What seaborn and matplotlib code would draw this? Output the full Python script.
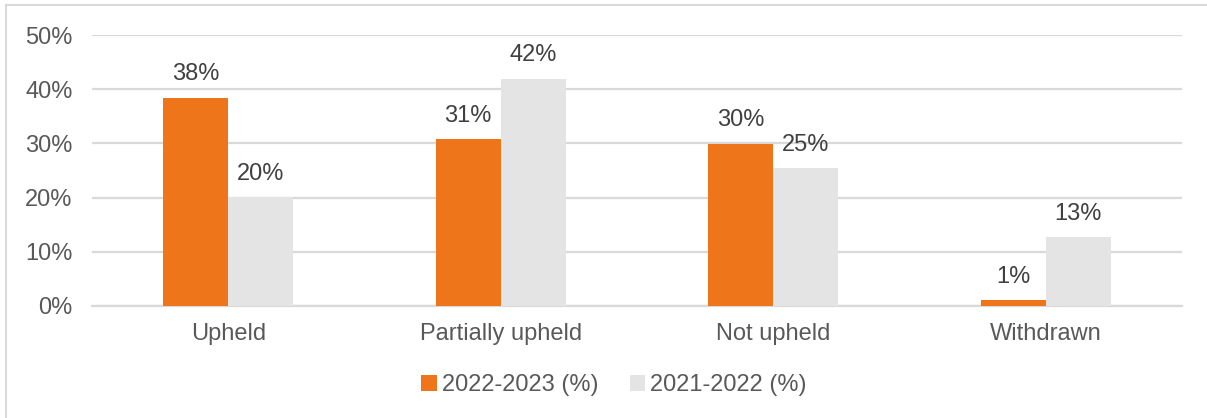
import matplotlib
matplotlib.use("Agg")
import matplotlib.pyplot as plt
import seaborn as sns
import pandas as pd
from matplotlib.patches import Rectangle
from matplotlib.lines import Line2D

categories = ["Upheld", "Partially upheld", "Not upheld", "Withdrawn"]
series_names = ["2022-2023 (%)", "2021-2022 (%)"]
values_2022_2023 = [38.4, 30.8, 29.9, 1.1]
values_2021_2022 = [20.1, 41.9, 25.4, 12.7]
y_ticks = [0, 10, 20, 30, 40, 50]
y_tick_labels = ["0%", "10%", "20%", "30%", "40%", "50%"]

df = pd.DataFrame({
    "category": categories * 2,
    "series": [series_names[0]] * 4 + [series_names[1]] * 4,
    "value": values_2022_2023 + values_2021_2022,
})

sns.set_theme(style="white")
plt.rcParams["font.family"] = ["Liberation Sans", "DejaVu Sans"]

FS = 17
fig = plt.figure(figsize=(12.07, 4.18), dpi=100)
ax = fig.add_axes([92 / 1207, 1 - 306 / 418, (1182 - 92) / 1207, (306 - 35) / 418])

palette = {series_names[0]: "#EE7519", series_names[1]: "#E4E4E4"}
sns.barplot(data=df, x="category", y="value", hue="series", order=categories,
            hue_order=series_names, palette=palette, width=0.478, ax=ax,
            saturation=1, legend=False, linewidth=0, zorder=3)

ax.set_ylim(0, 50)
ax.set_xlim(-0.5, 3.5)
ax.set_yticks(y_ticks)
ax.set_yticklabels(y_tick_labels)
ax.yaxis.grid(True, color="#D9D9D9", linewidth=1.6, zorder=0)
ax.set_axisbelow(True)
for s in ["top", "right", "left"]:
    ax.spines[s].set_visible(False)
ax.spines["bottom"].set_color("#D9D9D9")
ax.spines["bottom"].set_linewidth(1.6)
ax.set_xlabel("")
ax.set_ylabel("")
ax.tick_params(axis="y", length=0, pad=14, labelsize=FS, labelcolor="#595959")
ax.tick_params(axis="x", length=0, pad=12, labelsize=FS, labelcolor="#595959")

for container in ax.containers:
    labels = [f"{round(b.get_height()):.0f}%" for b in container]
    ax.bar_label(container, labels=labels, padding=9, fontsize=FS, color="#404040")

# legend
handles = [Rectangle((0, 0), 1, 1, facecolor=palette[n], edgecolor="none") for n in series_names]
fig.legend(handles, series_names, loc="center", bbox_to_anchor=(614 / 1207, 1 - 385 / 418),
           ncol=2, frameon=False, fontsize=FS, labelcolor="#595959",
           handlelength=0.65, handleheight=0.65, handletextpad=0.2, columnspacing=1.35)

# chart area border (partially visible)
fig.add_artist(Line2D([6 / 1207, 6 / 1207], [0, 1 - 5 / 418], transform=fig.transFigure,
                      color="#D9D9D9", linewidth=1.5))
fig.add_artist(Line2D([6 / 1207, 1], [1 - 5 / 418, 1 - 5 / 418], transform=fig.transFigure,
                      color="#D9D9D9", linewidth=1.5))

fig.savefig("out.png", dpi=100)
